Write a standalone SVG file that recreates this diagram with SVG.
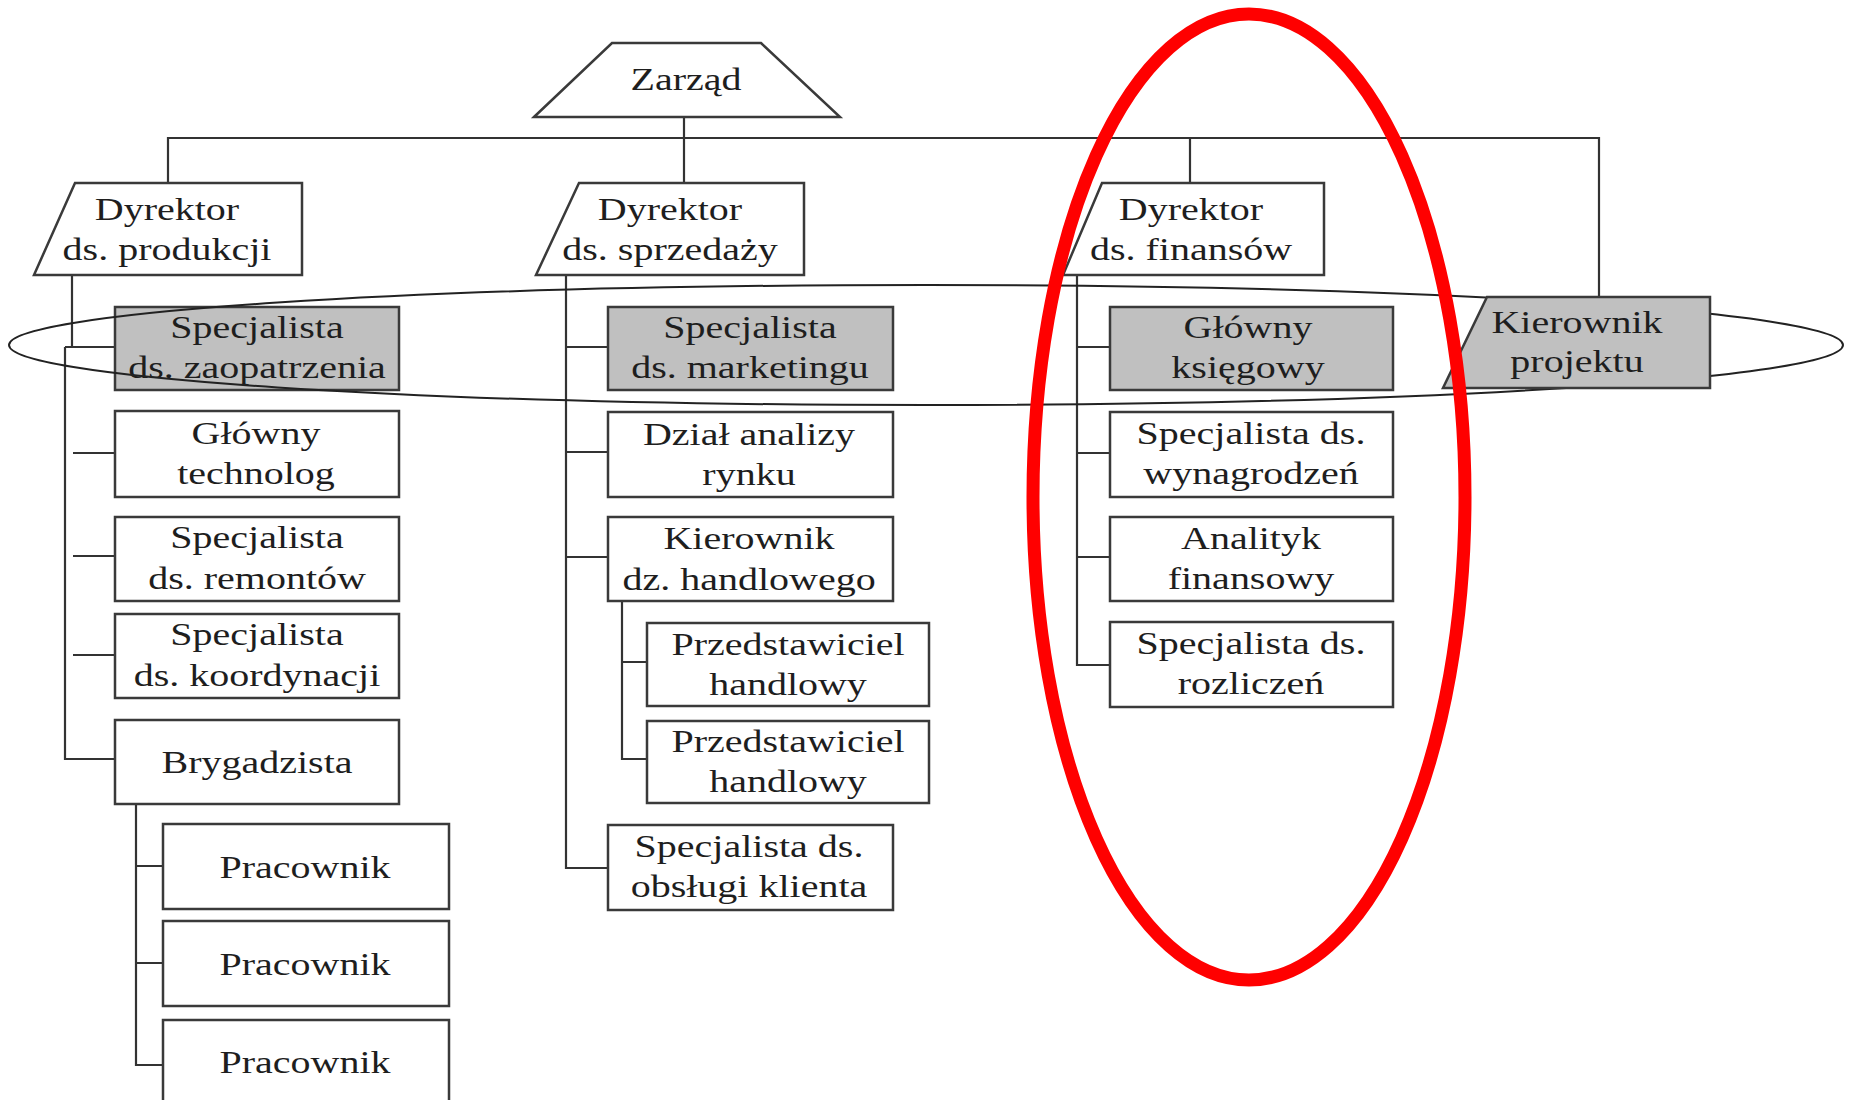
<svg xmlns="http://www.w3.org/2000/svg" width="1850" height="1100" viewBox="0 0 1850 1100">
<style>
  .bg{fill:#ffffff}
  .box{fill:#ffffff;stroke:#3a3a3a;stroke-width:2.5}
  .gray{fill:#c0c0c0;stroke:#3a3a3a;stroke-width:2.5}
  .ln{fill:none;stroke:#333333;stroke-width:2.2}
  .t{font-family:"Liberation Serif","Times New Roman",serif;font-size:32px;fill:#1e1e1e;text-anchor:middle}
  .group{fill:none;stroke:#222222;stroke-width:2}
  .red{fill:none;stroke:#ff0000;stroke-width:13}
</style>
<rect class="bg" x="0" y="0" width="1850" height="1100"/>

<g id="connectors">
  <!-- top bar -->
  <path class="ln" d="M684,117 V183 M168,183 V138 H1599 V297 M1190,138 V183"/>
  <!-- production column -->
  <path class="ln" d="M72,275 V347 M65,347 H115 M65,347 V759 H115 M73,453 H115 M73,556 H115 M73,655 H115"/>
  <path class="ln" d="M136,804 V1065 H163 M136,866 H163 M136,963 H163"/>
  <!-- sales column -->
  <path class="ln" d="M566,275 V868 H608 M566,347 H608 M566,452 H608 M566,557 H608"/>
  <path class="ln" d="M622,601 V759 H647 M622,662 H647"/>
  <!-- finance column -->
  <path class="ln" d="M1077,275 V665 H1110 M1077,347 H1110 M1077,453 H1110 M1077,557 H1110"/>
</g>

<g id="zarzad">
  <polygon class="box" points="534,117 612,43 761,43 840,117"/>
  <text class="t" transform="translate(686,0) scale(1.25,1)"><tspan x="0" y="90">Zarząd</tspan></text>
</g>

<g id="dyrektor-produkcji">
  <polygon class="box" points="75,183 302,183 302,275 34,275"/>
  <text class="t" transform="translate(167,0) scale(1.25,1)"><tspan x="0" y="220">Dyrektor</tspan><tspan x="0" y="260">ds. produkcji</tspan></text>
</g>
<g id="dyrektor-sprzedazy">
  <polygon class="box" points="579,183 804,183 804,275 536,275"/>
  <text class="t" transform="translate(670,0) scale(1.25,1)"><tspan x="0" y="220">Dyrektor</tspan><tspan x="0" y="260">ds. sprzedaży</tspan></text>
</g>
<g id="dyrektor-finansow">
  <polygon class="box" points="1102,183 1324,183 1324,275 1063,275"/>
  <text class="t" transform="translate(1191,0) scale(1.25,1)"><tspan x="0" y="220">Dyrektor</tspan><tspan x="0" y="260">ds. finansów</tspan></text>
</g>

<!-- production -->
<g id="spec-zaopatrzenia">
  <rect class="gray" x="115" y="307" width="284" height="83"/>
  <text class="t" transform="translate(257,0) scale(1.25,1)"><tspan x="0" y="338">Specjalista</tspan><tspan x="0" y="378">ds. zaopatrzenia</tspan></text>
</g>
<g id="glowny-technolog">
  <rect class="box" x="115" y="411" width="284" height="86"/>
  <text class="t" transform="translate(256,0) scale(1.25,1)"><tspan x="0" y="444">Główny</tspan><tspan x="0" y="484">technolog</tspan></text>
</g>
<g id="spec-remontow">
  <rect class="box" x="115" y="517" width="284" height="84"/>
  <text class="t" transform="translate(257,0) scale(1.25,1)"><tspan x="0" y="548">Specjalista</tspan><tspan x="0" y="589">ds. remontów</tspan></text>
</g>
<g id="spec-koordynacji">
  <rect class="box" x="115" y="614" width="284" height="84"/>
  <text class="t" transform="translate(257,0) scale(1.25,1)"><tspan x="0" y="645">Specjalista</tspan><tspan x="0" y="686">ds. koordynacji</tspan></text>
</g>
<g id="brygadzista">
  <rect class="box" x="115" y="720" width="284" height="84"/>
  <text class="t" transform="translate(257,0) scale(1.25,1)"><tspan x="0" y="773">Brygadzista</tspan></text>
</g>
<g id="pracownik-1">
  <rect class="box" x="163" y="824" width="286" height="85"/>
  <text class="t" transform="translate(305,0) scale(1.25,1)"><tspan x="0" y="878">Pracownik</tspan></text>
</g>
<g id="pracownik-2">
  <rect class="box" x="163" y="921" width="286" height="85"/>
  <text class="t" transform="translate(305,0) scale(1.25,1)"><tspan x="0" y="975">Pracownik</tspan></text>
</g>
<g id="pracownik-3">
  <rect class="box" x="163" y="1020" width="286" height="100"/>
  <text class="t" transform="translate(305,0) scale(1.25,1)"><tspan x="0" y="1073">Pracownik</tspan></text>
</g>

<!-- sales -->
<g id="spec-marketingu">
  <rect class="gray" x="608" y="307" width="285" height="83"/>
  <text class="t" transform="translate(750,0) scale(1.25,1)"><tspan x="0" y="338">Specjalista</tspan><tspan x="0" y="378">ds. marketingu</tspan></text>
</g>
<g id="dzial-analizy">
  <rect class="box" x="608" y="412" width="285" height="85"/>
  <text class="t" transform="translate(749,0) scale(1.25,1)"><tspan x="0" y="445">Dział analizy</tspan><tspan x="0" y="485">rynku</tspan></text>
</g>
<g id="kierownik-dz-handlowego">
  <rect class="box" x="608" y="517" width="285" height="84"/>
  <text class="t" transform="translate(749,0) scale(1.25,1)"><tspan x="0" y="549">Kierownik</tspan><tspan x="0" y="590">dz. handlowego</tspan></text>
</g>
<g id="przedstawiciel-1">
  <rect class="box" x="647" y="623" width="282" height="83"/>
  <text class="t" transform="translate(788,0) scale(1.25,1)"><tspan x="0" y="655">Przedstawiciel</tspan><tspan x="0" y="695">handlowy</tspan></text>
</g>
<g id="przedstawiciel-2">
  <rect class="box" x="647" y="721" width="282" height="82"/>
  <text class="t" transform="translate(788,0) scale(1.25,1)"><tspan x="0" y="752">Przedstawiciel</tspan><tspan x="0" y="792">handlowy</tspan></text>
</g>
<g id="spec-obslugi-klienta">
  <rect class="box" x="608" y="825" width="285" height="85"/>
  <text class="t" transform="translate(749,0) scale(1.25,1)"><tspan x="0" y="857">Specjalista ds.</tspan><tspan x="0" y="897">obsługi klienta</tspan></text>
</g>

<!-- finance -->
<g id="glowny-ksiegowy">
  <rect class="gray" x="1110" y="307" width="283" height="83"/>
  <text class="t" transform="translate(1248,0) scale(1.25,1)"><tspan x="0" y="338">Główny</tspan><tspan x="0" y="378">księgowy</tspan></text>
</g>
<g id="spec-wynagrodzen">
  <rect class="box" x="1110" y="412" width="283" height="85"/>
  <text class="t" transform="translate(1251,0) scale(1.25,1)"><tspan x="0" y="444">Specjalista ds.</tspan><tspan x="0" y="484">wynagrodzeń</tspan></text>
</g>
<g id="analityk-finansowy">
  <rect class="box" x="1110" y="517" width="283" height="84"/>
  <text class="t" transform="translate(1251,0) scale(1.25,1)"><tspan x="0" y="549">Analityk</tspan><tspan x="0" y="589">finansowy</tspan></text>
</g>
<g id="spec-rozliczen">
  <rect class="box" x="1110" y="622" width="283" height="85"/>
  <text class="t" transform="translate(1251,0) scale(1.25,1)"><tspan x="0" y="654">Specjalista ds.</tspan><tspan x="0" y="694">rozliczeń</tspan></text>
</g>

<!-- project team grouping ellipse -->
<g id="project-team-outline">
  <ellipse class="group" cx="926" cy="345" rx="917" ry="60"/>
</g>

<g id="kierownik-projektu">
  <polygon class="gray" points="1487,297 1710,297 1710,388 1443,388"/>
  <text class="t" transform="translate(1577,0) scale(1.25,1)"><tspan x="0" y="333">Kierownik</tspan><tspan x="0" y="372">projektu</tspan></text>
</g>

<!-- red highlight -->
<g id="finance-highlight">
  <ellipse class="red" cx="1249" cy="497" rx="216" ry="483"/>
</g>
</svg>
